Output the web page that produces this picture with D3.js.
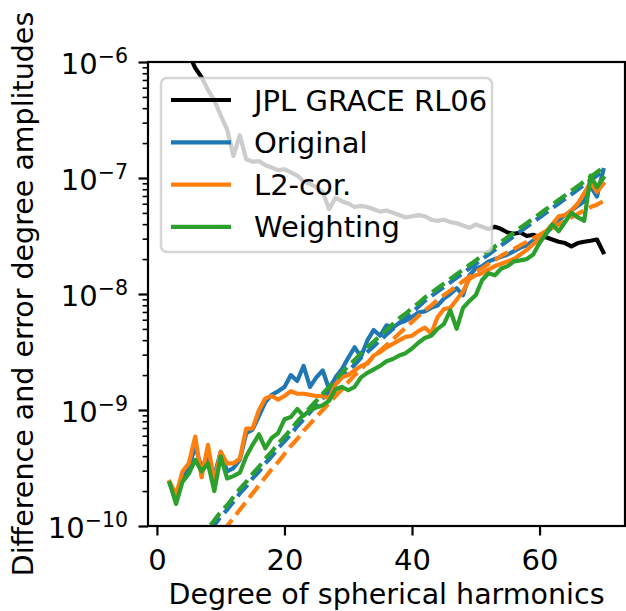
<!DOCTYPE html>
<html>
<head>
<meta charset="utf-8">
<script src="https://cdn.jsdelivr.net/npm/d3@7"></script>
<style>
  body { margin: 0; background: #fff; }
  svg { display: block; font-family: "DejaVu Sans", sans-serif; }
</style>
</head>
<body>
<div id="chart"></div>
<script>
// spherical harmonic degrees 2..70
const degrees = d3.range(2, 71);

const jplRL06 = [3.55e-6, 2.24e-6, 1.58e-6, 1.17e-6, 8.91e-7, 7.41e-7, 5.75e-7, 4.68e-7, 3.47e-7, 2.63e-7,
  1.55e-7, 2.34e-7, 1.45e-7, 1.38e-7, 1.40e-7, 1.29e-7, 1.23e-7, 1.17e-7, 1.19e-7, 1.12e-7,
  1.05e-7, 9.33e-8, 8.91e-8, 8.32e-8, 7.59e-8, 5.37e-8, 6.76e-8, 6.31e-8, 6.03e-8, 5.62e-8,
  5.75e-8, 5.62e-8, 5.37e-8, 5.13e-8, 5.25e-8, 5.01e-8, 4.79e-8, 4.57e-8, 4.68e-8, 4.79e-8,
  4.68e-8, 4.37e-8, 4.27e-8, 4.37e-8, 4.17e-8, 4.07e-8, 3.89e-8, 3.72e-8, 3.98e-8, 3.80e-8,
  3.63e-8, 3.80e-8, 3.63e-8, 3.39e-8, 3.31e-8, 3.39e-8, 3.16e-8, 3.24e-8, 3.09e-8, 3.09e-8,
  2.95e-8, 2.82e-8, 2.75e-8, 2.57e-8, 2.75e-8, 2.82e-8, 2.88e-8, 2.95e-8, 2.29e-8];

// difference degree amplitudes (solid)
const original = [2.34e-10, 1.66e-10, 2.51e-10, 3.16e-10, 4.90e-10, 3.16e-10, 3.98e-10, 2.69e-10, 4.37e-10, 2.95e-10,
  3.16e-10, 3.72e-10, 6.31e-10, 6.76e-10, 8.91e-10, 1.17e-9, 1.35e-9, 1.45e-9, 1.58e-9, 2.00e-9,
  1.78e-9, 2.40e-9, 1.58e-9, 1.91e-9, 2.19e-9, 1.51e-9, 1.91e-9, 2.24e-9, 2.82e-9, 3.47e-9,
  2.88e-9, 3.98e-9, 4.90e-9, 4.37e-9, 5.37e-9, 5.13e-9, 5.62e-9, 5.89e-9, 6.31e-9, 6.92e-9,
  7.08e-9, 7.59e-9, 7.94e-9, 9.12e-9, 1.00e-8, 1.12e-8, 9.77e-9, 1.45e-8, 1.66e-8, 1.74e-8,
  1.91e-8, 2.00e-8, 2.09e-8, 2.19e-8, 2.34e-8, 2.51e-8, 2.63e-8, 2.88e-8, 3.09e-8, 3.31e-8,
  3.80e-8, 4.37e-8, 4.79e-8, 5.25e-8, 5.75e-8, 6.31e-8, 8.51e-8, 6.92e-8, 1.17e-7];

const l2cor = [2.40e-10, 1.86e-10, 2.95e-10, 3.47e-10, 5.89e-10, 2.63e-10, 5.01e-10, 2.40e-10, 4.37e-10, 3.47e-10,
  3.47e-10, 3.80e-10, 6.92e-10, 6.92e-10, 1.00e-9, 1.26e-9, 1.32e-9, 1.23e-9, 1.32e-9, 1.45e-9,
  1.38e-9, 1.38e-9, 1.35e-9, 1.32e-9, 1.32e-9, 1.26e-9, 1.66e-9, 1.91e-9, 2.00e-9, 2.19e-9,
  2.40e-9, 2.51e-9, 2.95e-9, 3.16e-9, 3.47e-9, 3.72e-9, 3.98e-9, 4.27e-9, 4.37e-9, 4.79e-9,
  5.13e-9, 4.57e-9, 6.31e-9, 7.41e-9, 7.59e-9, 8.91e-9, 1.05e-8, 1.35e-8, 1.45e-8, 1.51e-8,
  1.62e-8, 1.74e-8, 1.82e-8, 1.91e-8, 2.00e-8, 2.19e-8, 2.40e-8, 2.69e-8, 2.95e-8, 3.47e-8,
  3.98e-8, 4.68e-8, 4.79e-8, 5.25e-8, 6.03e-8, 7.41e-8, 9.12e-8, 7.59e-8, 8.91e-8];

const weighting = [2.34e-10, 1.55e-10, 2.40e-10, 2.82e-10, 3.72e-10, 2.95e-10, 3.47e-10, 2.00e-10, 3.98e-10, 2.57e-10,
  2.69e-10, 2.88e-10, 3.98e-10, 5.01e-10, 6.17e-10, 4.68e-10, 5.75e-10, 6.31e-10, 8.32e-10, 8.71e-10,
  1.02e-9, 8.91e-10, 1.00e-9, 1.05e-9, 1.10e-9, 1.20e-9, 1.51e-9, 1.58e-9, 1.48e-9, 1.58e-9,
  1.91e-9, 2.09e-9, 2.24e-9, 2.40e-9, 2.63e-9, 2.75e-9, 2.95e-9, 3.09e-9, 3.39e-9, 3.80e-9,
  4.17e-9, 4.37e-9, 5.01e-9, 5.50e-9, 7.24e-9, 5.01e-9, 7.59e-9, 8.71e-9, 9.77e-9, 1.32e-8,
  1.51e-8, 1.45e-8, 1.66e-8, 1.74e-8, 1.91e-8, 1.95e-8, 2.00e-8, 2.19e-8, 2.75e-8, 3.31e-8,
  3.98e-8, 3.47e-8, 4.17e-8, 5.01e-8, 4.57e-8, 4.27e-8, 1.05e-7, 8.32e-8, 1.00e-7];

// error degree amplitudes (dashed)
const originalErr = [3.47e-11, 4.07e-11, 4.79e-11, 5.50e-11, 6.46e-11, 7.59e-11, 8.71e-11, 1.02e-10, 1.20e-10, 1.38e-10,
  1.62e-10, 1.91e-10, 2.19e-10, 2.57e-10, 2.95e-10, 3.47e-10, 3.98e-10, 4.68e-10, 5.37e-10, 6.17e-10,
  7.24e-10, 8.32e-10, 9.55e-10, 1.10e-9, 1.26e-9, 1.45e-9, 1.66e-9, 1.91e-9, 2.19e-9, 2.45e-9,
  2.82e-9, 3.16e-9, 3.55e-9, 3.98e-9, 4.47e-9, 5.01e-9, 5.62e-9, 6.17e-9, 6.92e-9, 7.76e-9,
  8.71e-9, 9.55e-9, 1.05e-8, 1.15e-8, 1.26e-8, 1.38e-8, 1.51e-8, 1.66e-8, 1.82e-8, 2.00e-8,
  2.19e-8, 2.40e-8, 2.63e-8, 2.88e-8, 3.16e-8, 3.47e-8, 3.80e-8, 4.17e-8, 4.57e-8, 5.01e-8,
  5.50e-8, 6.03e-8, 6.61e-8, 7.24e-8, 7.94e-8, 8.71e-8, 9.55e-8, 1.05e-7, 1.15e-7];

const l2corErr = [2.34e-11, 2.75e-11, 3.24e-11, 3.80e-11, 4.47e-11, 5.25e-11, 6.17e-11, 7.24e-11, 8.51e-11, 1.00e-10,
  1.17e-10, 1.38e-10, 1.62e-10, 1.91e-10, 2.24e-10, 2.63e-10, 3.09e-10, 3.55e-10, 4.17e-10, 4.90e-10,
  5.62e-10, 6.61e-10, 7.59e-10, 8.71e-10, 1.00e-9, 1.15e-9, 1.32e-9, 1.51e-9, 1.74e-9, 2.00e-9,
  2.24e-9, 2.57e-9, 2.88e-9, 3.24e-9, 3.63e-9, 4.07e-9, 4.57e-9, 5.13e-9, 5.75e-9, 6.46e-9,
  7.24e-9, 7.94e-9, 8.91e-9, 9.77e-9, 1.07e-8, 1.17e-8, 1.29e-8, 1.41e-8, 1.55e-8, 1.66e-8,
  1.82e-8, 1.95e-8, 2.14e-8, 2.29e-8, 2.45e-8, 2.63e-8, 2.82e-8, 3.02e-8, 3.24e-8, 3.47e-8,
  3.72e-8, 3.98e-8, 4.27e-8, 4.57e-8, 4.90e-8, 5.25e-8, 5.62e-8, 5.89e-8, 6.31e-8];

const weightingErr = [3.80e-11, 4.47e-11, 5.25e-11, 6.03e-11, 7.08e-11, 8.32e-11, 9.55e-11, 1.12e-10, 1.32e-10, 1.51e-10,
  1.78e-10, 2.09e-10, 2.40e-10, 2.82e-10, 3.24e-10, 3.80e-10, 4.37e-10, 5.13e-10, 5.89e-10, 6.76e-10,
  7.94e-10, 9.12e-10, 1.05e-9, 1.20e-9, 1.38e-9, 1.58e-9, 1.82e-9, 2.09e-9, 2.40e-9, 2.69e-9,
  3.09e-9, 3.47e-9, 3.89e-9, 4.37e-9, 4.90e-9, 5.50e-9, 6.17e-9, 6.76e-9, 7.59e-9, 8.32e-9,
  9.33e-9, 1.02e-8, 1.12e-8, 1.23e-8, 1.35e-8, 1.48e-8, 1.62e-8, 1.78e-8, 1.95e-8, 2.14e-8,
  2.34e-8, 2.57e-8, 2.82e-8, 3.09e-8, 3.39e-8, 3.72e-8, 4.07e-8, 4.47e-8, 4.90e-8, 5.37e-8,
  5.89e-8, 6.46e-8, 7.08e-8, 7.76e-8, 8.51e-8, 9.33e-8, 1.02e-7, 1.12e-7, 1.23e-7];

const legendLabels = ["JPL GRACE RL06", "Original", "L2-cor.", "Weighting"];
const colors = ["#000000", "#1f77b4", "#ff7f0e", "#2ca02c"];
const xTicks = [0, 20, 40, 60];
const yTicks = [1e-10, 1e-9, 1e-8, 1e-7, 1e-6];

const width = 626, height = 611;
const margin = {left: 148, right: 1, top: 62, bottom: 85};
const fontSize = 29;
const lw = 4.2;

const svg = d3.select("#chart").append("svg")
    .attr("width", width)
    .attr("height", height);

const x = d3.scaleLinear()
    .domain([-1.4, 73.4])
    .range([margin.left, width - margin.right]);

const y = d3.scaleLog()
    .domain([1e-10, 1e-6])
    .range([height - margin.bottom, margin.top]);

svg.append("clipPath").attr("id", "plot-clip")
    .append("rect")
    .attr("x", margin.left).attr("y", margin.top)
    .attr("width", x.range()[1] - margin.left)
    .attr("height", y.range()[0] - margin.top);

const line = d3.line()
    .x((d, i) => x(degrees[i]))
    .y(d => y(d));

// draw order: JPL, then each solution with its error curve
const series = [
    {values: jplRL06, color: colors[0], dash: null},
    {values: original, color: colors[1], dash: null},
    {values: originalErr, color: colors[1], dash: "15,6.5"},
    {values: l2cor, color: colors[2], dash: null},
    {values: l2corErr, color: colors[2], dash: "15,6.5"},
    {values: weighting, color: colors[3], dash: null},
    {values: weightingErr, color: colors[3], dash: "15,6.5"}
];

const plot = svg.append("g").attr("clip-path", "url(#plot-clip)");
plot.selectAll("path")
    .data(series)
    .enter()
    .append("path")
    .attr("d", d => line(d.values))
    .attr("fill", "none")
    .attr("stroke", d => d.color)
    .attr("stroke-width", lw)
    .attr("stroke-linejoin", "round")
    .attr("stroke-linecap", d => d.dash ? "butt" : "square")
    .attr("stroke-dasharray", d => d.dash);

// x axis
const xAxis = svg.append("g")
    .attr("transform", "translate(0," + y.range()[0] + ")")
    .call(d3.axisBottom(x).tickValues(xTicks).tickSize(9.5).tickPadding(14).tickFormat(d3.format("d")));

// y axis, major ticks with 10^n labels
const yAxis = svg.append("g")
    .attr("transform", "translate(" + margin.left + ",0)")
    .call(d3.axisLeft(y).tickValues(yTicks).tickSize(9.5).tickPadding(10.5).tickFormat(""));

yAxis.selectAll(".tick text")
    .attr("dy", "0.38em")
    .each(function (d) {
        const t = d3.select(this);
        t.append("tspan").text("10");
        t.append("tspan")
            .attr("font-size", 20.5)
            .attr("dy", -10.5)
            .text("\u2212" + Math.round(-Math.log10(d)));
    });

// minor ticks
const minorTicks = [];
yTicks.slice(0, -1).forEach(p => {
    for (let k = 2; k < 10; k++) minorTicks.push(p * k);
});
svg.append("g")
    .attr("class", "minor")
    .attr("transform", "translate(" + margin.left + ",0)")
    .call(d3.axisLeft(y).tickValues(minorTicks).tickSize(5.4).tickFormat(""))
    .call(g => g.selectAll(".tick line").attr("stroke-width", 1.6));

svg.selectAll(".domain").remove();
xAxis.selectAll(".tick line").attr("stroke-width", 2.2);
yAxis.selectAll(".tick line").attr("stroke-width", 2.2);
svg.selectAll(".tick text")
    .attr("font-size", fontSize)
    .attr("font-family", "DejaVu Sans")
    .attr("fill", "#000");

// frame
svg.append("rect")
    .attr("x", margin.left).attr("y", margin.top)
    .attr("width", x.range()[1] - margin.left)
    .attr("height", y.range()[0] - margin.top)
    .attr("fill", "none")
    .attr("stroke", "#000")
    .attr("stroke-width", 2.2);

// axis titles
svg.append("text")
    .attr("x", (margin.left + x.range()[1]) / 2)
    .attr("y", 604)
    .attr("text-anchor", "middle")
    .attr("font-size", 28.5)
    .text("Degree of spherical harmonics");

svg.append("text")
    .attr("transform", "translate(33," + (margin.top + y.range()[0]) / 2 + ") rotate(-90)")
    .attr("text-anchor", "middle")
    .attr("font-size", 28.5)
    .text("Difference and error degree amplitudes");

// legend
const legend = svg.append("g");
legend.append("rect")
    .attr("x", 161).attr("y", 78)
    .attr("width", 331).attr("height", 174)
    .attr("rx", 6)
    .attr("fill", "#fff").attr("fill-opacity", 0.8)
    .attr("stroke", "#cccccc").attr("stroke-opacity", 0.8)
    .attr("stroke-width", 2.5);

const rows = legend.selectAll(".row")
    .data(legendLabels)
    .enter()
    .append("g")
    .attr("transform", (d, i) => "translate(0," + (100 + i * 42.3) + ")");

rows.append("line")
    .attr("x1", 171).attr("x2", 231)
    .attr("stroke", (d, i) => colors[i])
    .attr("stroke-width", lw);

rows.append("text")
    .attr("x", 254)
    .attr("y", 10.5)
    .attr("font-size", fontSize)
    .text(d => d);
</script>
</body>
</html>
